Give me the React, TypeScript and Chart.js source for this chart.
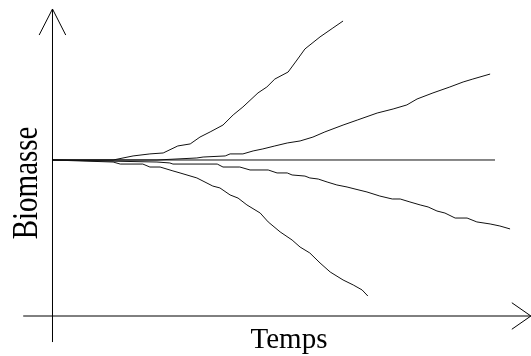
import React, { useEffect, useRef } from "react";
import { Chart, registerables } from "chart.js";

Chart.register(...registerables);

// Time (t) and biomass (B, initial biomass = 100) for each trajectory
const flatT = [0, 100];
const flatB = [100, 100];

const upFastT = [0, 13.8, 18.3, 22.1, 25.1, 28.4, 31.2, 33.4, 35.7, 38.6, 40.9, 43.1, 46.5, 48.5, 50.3, 53.3, 55.3, 57.1, 60.5, 63.4, 65.7];
const upFastB = [100, 100, 102.6, 103.9, 104.5, 109.0, 110.3, 114.7, 118.0, 122.4, 128.9, 134.0, 143.0, 146.8, 151.9, 156.4, 164.1, 171.2, 178.9, 184.6, 189.1];

const upSlowT = [0, 23.7, 32.7, 34.1, 39.1, 40.2, 43.1, 45.4, 47.6, 50.3, 53.1, 56.0, 58.9, 61.6, 65.7, 68.9, 73.4, 77.0, 80.1, 82.4, 86.0, 89.8, 92.8, 95.0, 98.9];
const upSlowB = [100, 100, 101.3, 101.9, 102.6, 103.9, 103.9, 105.8, 107.1, 109.0, 110.9, 112.2, 114.7, 118.0, 122.4, 125.6, 130.1, 132.7, 135.3, 139.1, 143.0, 146.8, 150.0, 151.9, 155.1];

const downSlowT = [0, 23.7, 26.6, 27.3, 37.3, 38.6, 42.4, 44.7, 48.8, 50.8, 53.1, 54.2, 57.1, 58.2, 60.1, 62.1, 64.3, 66.6, 68.4, 71.1, 74.0, 76.8, 78.6, 80.8, 83.1, 84.9, 86.9, 88.7, 91.0, 93.7, 95.9, 98.9, 101.1, 103.4];
const downSlowB = [100, 98.7, 98.1, 97.4, 97.4, 95.5, 95.5, 93.6, 93.6, 91.7, 91.7, 90.4, 89.7, 88.5, 87.8, 85.9, 84.0, 82.7, 81.4, 79.5, 76.9, 75.0, 75.0, 73.1, 71.2, 69.9, 67.3, 66.0, 62.8, 62.8, 60.3, 59.0, 57.7, 55.8];

const downFastT = [0, 13.8, 15.4, 20.5, 22.1, 24.4, 27.3, 28.9, 32.7, 36.3, 37.9, 40.2, 42.0, 44.0, 47.0, 48.8, 51.5, 54.2, 56.0, 58.2, 60.5, 62.8, 65.7, 68.0, 70.0, 71.3];
const downFastB = [100, 98.7, 97.4, 97.4, 95.5, 95.5, 93.0, 91.7, 88.5, 83.3, 82.1, 77.6, 75.6, 71.2, 66.0, 60.3, 53.9, 48.7, 44.2, 40.4, 34.0, 28.2, 23.1, 19.9, 16.7, 12.8];

// Axes with arrowheads (drawn as lines in the same data space)
const yAxisT = [0.11, 0.11];
const yAxisB = [-16.7, 196.8];
const yArrowT = [-2.9, 0.11, 3.1];
const yArrowB = [180.1, 196.8, 180.1];
const xAxisT = [-6.5, 108.1];
const xAxisB = [0, 0];
const xArrowT = [103.8, 108.1, 103.8];
const xArrowB = [8.5, 0, -8.5];

const xLabel = "Temps";
const yLabel = "Biomasse";

const toPts = (xs: number[], ys: number[]) => xs.map((x, i) => ({ x, y: ys[i] }));

const labelPlugin = {
  id: "axisLabels",
  afterDraw(chart: any) {
    const ctx = chart.ctx;
    const xs = chart.scales.x;
    const ys = chart.scales.y;
    ctx.save();
    ctx.fillStyle = "#000";
    ctx.font = '29px "Liberation Serif", "Times New Roman", serif';
    ctx.textAlign = "center";
    ctx.textBaseline = "alphabetic";
    ctx.fillText(xLabel, xs.getPixelForValue(53.5), ys.getPixelForValue(-20.5));
    ctx.translate(xs.getPixelForValue(-3.4), ys.getPixelForValue(85.3));
    ctx.rotate(-Math.PI / 2);
    ctx.scale(1, 1.25);
    ctx.fillText(yLabel, 0, 0);
    ctx.restore();
  },
};

export default function App() {
  const ref = useRef<HTMLCanvasElement | null>(null);
  useEffect(() => {
    if (!ref.current) return;
    const line = (xs: number[], ys: number[], color: string, width: number) => ({
      data: toPts(xs, ys),
      borderColor: color,
      borderWidth: width,
      pointRadius: 0,
      tension: 0,
      fill: false,
    });
    const chart = new Chart(ref.current, {
      type: "line",
      data: {
        datasets: [
          line(yAxisT, yAxisB, "#000", 1),
          line(yArrowT, yArrowB, "#000", 1),
          line(xAxisT, xAxisB, "#000", 1),
          line(xArrowT, xArrowB, "#000", 1),
          line(flatT, flatB, "#111", 1),
          line(upFastT, upFastB, "#111", 1),
          line(upSlowT, upSlowB, "#111", 1),
          line(downSlowT, downSlowB, "#111", 1),
          line(downFastT, downFastB, "#111", 1),
        ],
      },
      options: {
        animation: false,
        responsive: false,
        maintainAspectRatio: false,
        layout: { padding: 0 },
        plugins: { legend: { display: false }, tooltip: { enabled: false } },
        scales: {
          x: { type: "linear", min: -11.738, max: 108.126, display: false },
          y: { type: "linear", min: -25.641, max: 202.564, display: false },
        },
      },
      plugins: [labelPlugin],
    });
    return () => chart.destroy();
  }, []);
  return (
    <div style={{ position: "absolute", left: 0, top: 0, width: 531, height: 356, background: "#fff" }}>
      <canvas ref={ref} width={531} height={356} style={{ display: "block" }} />
    </div>
  );
}
